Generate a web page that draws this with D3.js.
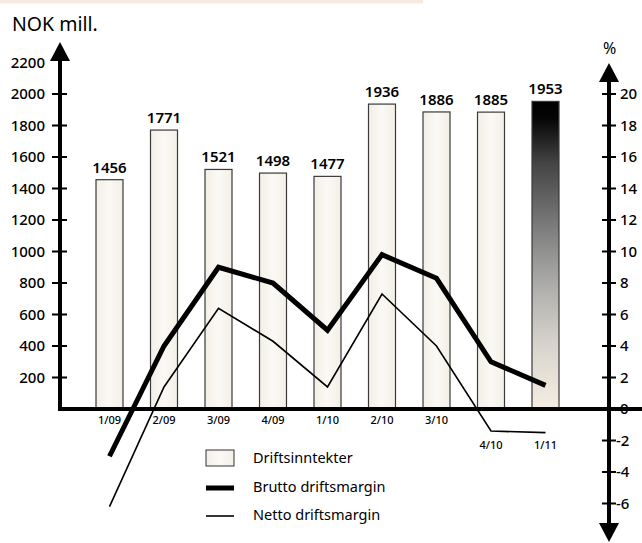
<!DOCTYPE html>
<html>
<head>
  <meta charset="utf-8">
  <script src="https://cdn.jsdelivr.net/npm/d3@7/dist/d3.min.js"></script>
  <style>
    body { margin: 0; background: #fff; }
    svg text { font-family: "Noto Sans", sans-serif; fill: #000; }
  </style>
</head>
<body>
  <svg id="chart" width="642" height="543"></svg>
  <script>
    // kvartaler
    var categories = ["1/09", "2/09", "3/09", "4/09", "1/10", "2/10", "3/10", "4/10", "1/11"];
    // driftsinntekter, NOK mill.
    var revenue = [1456, 1771, 1521, 1498, 1477, 1936, 1886, 1885, 1953];
    // marginer i %
    var brutto = [-3, 4, 9, 8, 5, 9.8, 8.3, 3, 1.5];
    var netto = [-6.2, 1.4, 6.4, 4.3, 1.4, 7.3, 4.0, -1.4, -1.5];
    var leftTicks = [200, 400, 600, 800, 1000, 1200, 1400, 1600, 1800, 2000, 2200];
    var rightTicks = [-6, -4, -2, 0, 2, 4, 6, 8, 10, 12, 14, 16, 18, 20];
    var legendLabels = ["Driftsinntekter", "Brutto driftsmargin", "Netto driftsmargin"];

    var svg = d3.select("#chart");
    var y0 = 409;

    var x = d3.scalePoint().domain(categories).range([109.5, 545.5]);
    var yLeft = d3.scaleLinear().domain([0, 2200]).range([y0, y0 - 346.5]);
    var yRight = d3.scaleLinear().domain([0, 22]).range([y0, y0 - 346.5]);
    var barW = 27;

    // gradienter
    var defs = svg.append("defs");
    var cream = defs.append("linearGradient").attr("id", "cream")
      .attr("x1", "0").attr("x2", "1").attr("y1", "0").attr("y2", "0");
    cream.append("stop").attr("offset", "0").attr("stop-color", "#f3efe7");
    cream.append("stop").attr("offset", "0.5").attr("stop-color", "#fbf9f5");
    cream.append("stop").attr("offset", "1").attr("stop-color", "#f3efe7");

    var dark = defs.append("linearGradient").attr("id", "dark")
      .attr("x1", "0").attr("x2", "0").attr("y1", "0").attr("y2", "1");
    [[0, "#000"], [0.055, "#050505"], [0.2, "#444"], [0.36, "#6f6f6f"], [0.5, "#949493"],
     [0.63, "#b5b4b1"], [0.8, "#d9d5ce"], [1, "#f5ede2"]].forEach(function(s) {
      dark.append("stop").attr("offset", s[0]).attr("stop-color", s[1]);
    });

    // bånd øverst
    svg.append("rect").attr("x", 0).attr("y", 0).attr("width", 423).attr("height", 3.5)
      .attr("fill", "#f6ebe1");

    svg.append("text").attr("x", 12).attr("y", 31).attr("font-size", 19.5).text("NOK mill.");

    // stolper
    svg.selectAll("rect.bar")
      .data(revenue)
      .enter()
      .append("rect")
      .attr("class", "bar")
      .attr("x", function(d, i) { return x(categories[i]) - barW / 2; })
      .attr("y", function(d) { return yLeft(d); })
      .attr("width", barW)
      .attr("height", function(d) { return y0 - yLeft(d); })
      .attr("fill", function(d, i) { return i === revenue.length - 1 ? "url(#dark)" : "url(#cream)"; })
      .attr("stroke", "#3a3a3a")
      .attr("stroke-width", 1.2);

    svg.selectAll("text.val")
      .data(revenue)
      .enter()
      .append("text")
      .attr("class", "val")
      .attr("x", function(d, i) { return x(categories[i]); })
      .attr("y", function(d) { return yLeft(d) - 7; })
      .attr("text-anchor", "middle")
      .attr("font-size", 15)
      .attr("font-weight", 600)
      .text(function(d) { return d; });

    // kategorietiketter, de to siste er senket
    var lowered = ["4/10", "1/11"];
    svg.selectAll("text.cat")
      .data(categories)
      .enter()
      .append("text")
      .attr("class", "cat")
      .attr("x", function(d) { return x(d); })
      .attr("y", function(d) { return lowered.indexOf(d) >= 0 ? 449 : 424; })
      .attr("text-anchor", "middle")
      .attr("font-size", 11)
      .attr("font-weight", 500)
      .text(function(d) { return d; });

    // linjer
    var line = d3.line()
      .x(function(d, i) { return x(categories[i]); })
      .y(function(d) { return yRight(d); });

    svg.append("path").datum(brutto).attr("d", line)
      .attr("fill", "none").attr("stroke", "#000").attr("stroke-width", 5)
      .attr("stroke-linejoin", "miter");
    svg.append("path").datum(netto).attr("d", line)
      .attr("fill", "none").attr("stroke", "#000").attr("stroke-width", 1.6);

    // venstre akse
    var leftX = 60;
    svg.append("line").attr("x1", leftX).attr("x2", leftX).attr("y1", 56).attr("y2", y0 + 2)
      .attr("stroke", "#000").attr("stroke-width", 4);
    svg.append("path").attr("d", d3.line()([[leftX - 10, 61], [leftX, 42], [leftX + 10, 61]]) + "Z")
      .attr("fill", "#000");
    svg.selectAll("line.lt")
      .data(leftTicks.filter(function(d) { return d < 2200; }))
      .enter().append("line").attr("class", "lt")
      .attr("x1", leftX - 8).attr("x2", leftX + 7)
      .attr("y1", function(d) { return yLeft(d); }).attr("y2", function(d) { return yLeft(d); })
      .attr("stroke", "#000").attr("stroke-width", 2);
    svg.selectAll("text.ll")
      .data(leftTicks)
      .enter().append("text").attr("class", "ll")
      .attr("x", 45).attr("y", function(d) { return yLeft(d); })
      .attr("dy", "0.35em").attr("text-anchor", "end").attr("font-size", 15)
      .attr("font-weight", 500)
      .text(function(d) { return d; });

    // grunnlinje
    svg.append("line").attr("x1", leftX - 2).attr("x2", 642).attr("y1", y0).attr("y2", y0)
      .attr("stroke", "#000").attr("stroke-width", 4);

    // høyre akse
    var rightX = 609;
    svg.append("line").attr("x1", rightX).attr("x2", rightX).attr("y1", 78).attr("y2", 527)
      .attr("stroke", "#000").attr("stroke-width", 4);
    svg.append("path").attr("d", d3.line()([[rightX - 10, 82], [rightX, 63], [rightX + 10, 82]]) + "Z")
      .attr("fill", "#000");
    svg.append("path").attr("d", d3.line()([[rightX - 10, 523], [rightX, 542], [rightX + 10, 523]]) + "Z")
      .attr("fill", "#000");
    svg.selectAll("line.rt")
      .data(rightTicks.filter(function(d) { return d !== 0; }))
      .enter().append("line").attr("class", "rt")
      .attr("x1", rightX - 7).attr("x2", rightX + 7)
      .attr("y1", function(d) { return yRight(d); }).attr("y2", function(d) { return yRight(d); })
      .attr("stroke", "#000").attr("stroke-width", 2);
    svg.selectAll("text.rl")
      .data(rightTicks)
      .enter().append("text").attr("class", "rl")
      .attr("x", function(d) { return d < 0 ? 616 : 620; }).attr("y", function(d) { return yRight(d); })
      .attr("dy", "0.35em").attr("font-size", 15).attr("font-weight", 500)
      .text(function(d) { return d; });
    svg.append("text").attr("x", rightX - 6).attr("y", 54).attr("font-size", 16).text("%");

    // forklaring
    var lg = svg.append("g").attr("transform", "translate(206,0)");
    lg.append("rect").attr("x", 0).attr("y", 450).attr("width", 28).attr("height", 16)
      .attr("fill", "url(#cream)").attr("stroke", "#333").attr("stroke-width", 1);
    lg.append("line").attr("x1", 0).attr("x2", 28).attr("y1", 488).attr("y2", 488)
      .attr("stroke", "#000").attr("stroke-width", 5);
    lg.append("line").attr("x1", 0).attr("x2", 28).attr("y1", 516).attr("y2", 516)
      .attr("stroke", "#000").attr("stroke-width", 1.6);
    lg.selectAll("text")
      .data(legendLabels)
      .enter().append("text")
      .attr("x", 47).attr("y", function(d, i) { return 458 + i * 28.5; })
      .attr("dy", "0.35em").attr("font-size", 14.5)
      .text(function(d) { return d; });
  </script>
</body>
</html>
